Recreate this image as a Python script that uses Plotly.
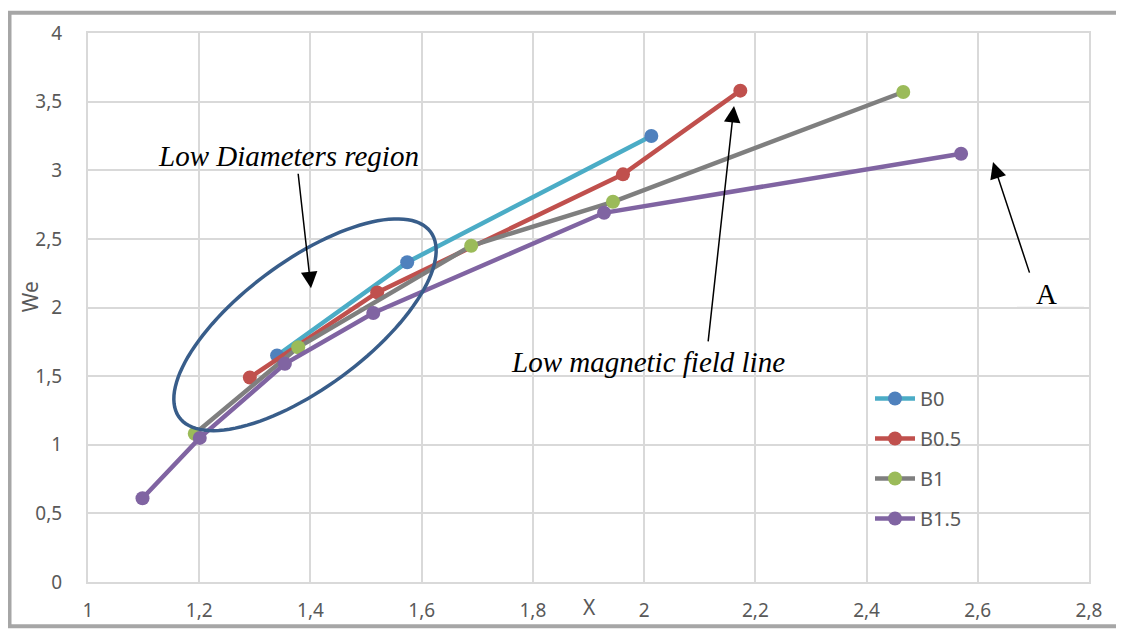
import numpy as np
import plotly.graph_objects as go

# ---- data ----
b0_x = [1.34, 1.574, 2.013]
b0_y = [1.65, 2.33, 3.25]
b05_x = [1.291, 1.52, 1.962, 2.173]
b05_y = [1.49, 2.11, 2.97, 3.58]
b1_x = [1.192, 1.378, 1.689, 1.944, 2.466]
b1_y = [1.08, 1.71, 2.45, 2.77, 3.57]
b15_x = [1.098, 1.201, 1.354, 1.513, 1.928, 2.57]
b15_y = [0.61, 1.05, 1.59, 1.96, 2.69, 3.12]

series_names = ["B0", "B0.5", "B1", "B1.5"]
line_colors = ["#4bacc6", "#c0504d", "#7f7f7f", "#8064a2"]
marker_colors = ["#4f81bd", "#c0504d", "#9bbb59", "#8064a2"]

OFF = 8  # page body margin
W, H = 1116, 627
ML, MT = 80, 21
PW, PH = 1001, 557
MR = W - ML - PW
MB = H - MT - PH


def pg(px, py):
    """page pixel -> paper coords"""
    fx, fy = px - OFF, py - OFF
    return (fx - ML) / PW, (MT + PH - fy) / PH


fig = go.Figure()
for name, xs, ys, lc, mc in zip(series_names, [b0_x, b05_x, b1_x, b15_x],
                                 [b0_y, b05_y, b1_y, b15_y], line_colors, marker_colors):
    fig.add_trace(go.Scatter(
        x=xs, y=ys, name=name, mode="lines+markers", legendgroup=name,
        line=dict(color=lc, width=4.5),
        marker=dict(color=mc, size=14),
    ))

shapes = []
# ellipse (annotation shape) in page pixel space -> paper
cx, cy, a, b, th = 305, 325, 157, 64, np.deg2rad(37)
t = np.linspace(0, 2 * np.pi, 120)
ex = cx + a * np.cos(t) * np.cos(th) - b * np.sin(t) * np.sin(th)
ey = cy - (a * np.cos(t) * np.sin(th) + b * np.sin(t) * np.cos(th))
pts = [pg(x_, y_) for x_, y_ in zip(ex, ey)]
path = "M " + " L ".join(f"{p[0]:.5f},{p[1]:.5f}" for p in pts) + " Z"
shapes.append(dict(type="path", xref="paper", yref="paper", path=path,
                   line=dict(color="#385d8a", width=3.5)))

# outer border
x0, y0 = pg(9.5, 8.5)
x1, y1 = pg(1140, 631)
shapes.append(dict(type="rect", xref="paper", yref="paper", x0=x0, y0=y1, x1=x1, y1=y0,
                   line=dict(color="#a6a6a6", width=4), layer="above"))
# "A" text box
bx0, by0 = pg(1017, 262)
bx1, by1 = pg(1084, 307)
shapes.append(dict(type="rect", xref="paper", yref="paper", x0=bx0, y0=by1, x1=bx1, y1=by0,
                   fillcolor="white", line=dict(width=0), layer="above"))
lx0, ly = pg(1017, 307.5)
lx1, _ = pg(1084, 307.5)
shapes.append(dict(type="line", xref="paper", yref="paper", x0=lx0, x1=lx1, y0=ly, y1=ly,
                   line=dict(color="#d9d9d9", width=1.5), layer="above"))

annotations = []
serif = "Liberation Serif"


def txt(text, px, py, size, italic=True, color="black", family=serif, angle=0):
    x, y = pg(px, py)
    t_ = f"<i>{text}</i>" if italic else text
    annotations.append(dict(text=t_, x=x, y=y, xref="paper", yref="paper", showarrow=False,
                            font=dict(family=family, size=size, color=color),
                            xanchor="center", yanchor="middle", textangle=angle))


def arrow(hx, hy, tx, ty):
    x, y = pg(hx, hy)
    annotations.append(dict(text="", x=x, y=y, xref="paper", yref="paper", showarrow=True,
                            ax=tx - hx, ay=ty - hy, axref="pixel", ayref="pixel",
                            arrowhead=2, arrowsize=2.2, arrowwidth=1.5, arrowcolor="black",
                            standoff=0, startstandoff=0))


txt("Low Diameters region", 288, 154, 29)
txt("Low magnetic field line", 648, 363, 29)
txt("A", 1046, 294, 29, italic=False)
arrow(311, 288, 298, 172)
arrow(734, 103, 708, 340)
arrow(993, 160, 1030, 272)
txt("We", 30, 297, 21, italic=False, color="#595959", family="Noto Sans", angle=-90)
txt("X", 589, 611, 21, italic=False, color="#595959", family="Noto Sans")

tickfont = dict(family="Noto Sans", size=19, color="#595959")
lx, ly_ = pg(870, 380)
fig.update_layout(
    width=W, height=H,
    margin=dict(l=ML, r=MR, t=MT, b=MB),
    paper_bgcolor="white", plot_bgcolor="white",
    separators=", ",
    showlegend=True,
    legend=dict(x=lx, y=ly_, xanchor="left", yanchor="top",
                font=dict(family="Noto Sans", size=20, color="#595959"),
                bgcolor="rgba(0,0,0,0)", tracegroupgap=11, itemwidth=40),
    xaxis=dict(range=[1, 2.8], dtick=0.2, tick0=1, showgrid=True, gridcolor="#d9d9d9",
               gridwidth=1.5, zeroline=False, showline=True, linecolor="#d9d9d9", linewidth=2,
               mirror=True, tickfont=tickfont, ticks="", ticklabelstandoff=10),
    yaxis=dict(range=[0, 4], dtick=0.5, tick0=0, showgrid=True, gridcolor="#d9d9d9",
               gridwidth=1.5, zeroline=False, showline=True, linecolor="#d9d9d9", linewidth=2,
               mirror=True, tickfont=tickfont, ticks="", ticklabelstandoff=20),
    shapes=shapes, annotations=annotations,
)

fig.write_html("out.html")
